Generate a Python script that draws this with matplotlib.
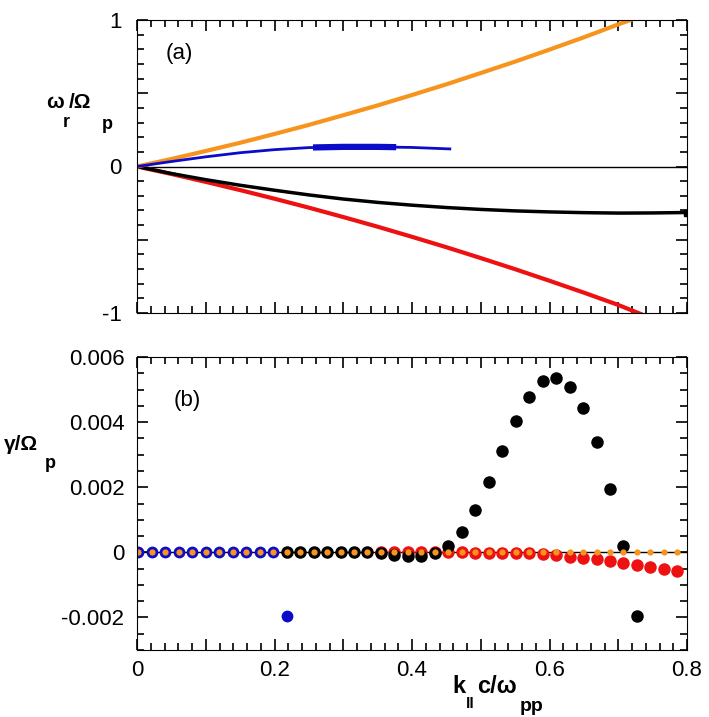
import numpy as np
import matplotlib
matplotlib.use('Agg')
import matplotlib.pyplot as plt
from matplotlib.ticker import MultipleLocator, FixedLocator, FixedFormatter

plt.rcParams['font.family'] = ['Liberation Sans', 'DejaVu Sans']

# colours
ORANGE = '#f7941e'
BLUE = '#0c0cc8'
RED = '#ee1111'

# ---- panel (a): real frequency vs k
k_orange = [0.0, 0.05, 0.1, 0.15, 0.2, 0.25, 0.3, 0.35, 0.4, 0.45, 0.5, 0.55, 0.6, 0.65, 0.7, 0.725]
w_orange = [0.0, 0.051, 0.106, 0.162, 0.222, 0.284, 0.35, 0.417, 0.488, 0.561, 0.638, 0.716,
            0.798, 0.882, 0.97, 1.012]

k_blue = [0.0, 0.025, 0.05, 0.075, 0.1, 0.15, 0.2, 0.25, 0.3, 0.35, 0.4, 0.455]
w_blue = [0.0, 0.017, 0.034, 0.05, 0.066, 0.094, 0.115, 0.129, 0.134, 0.134, 0.13, 0.12]
k_blue_thick = [0.256, 0.3, 0.35, 0.377]
w_blue_thick = [0.13, 0.134, 0.134, 0.132]

k_black = [0.0, 0.05, 0.1, 0.15, 0.2, 0.25, 0.3, 0.35, 0.4, 0.45, 0.5, 0.55, 0.6, 0.65, 0.7,
           0.75, 0.8]
w_black = [0.0, -0.048, -0.09, -0.128, -0.162, -0.194, -0.222, -0.245, -0.264, -0.28, -0.293,
           -0.303, -0.31, -0.315, -0.318, -0.317, -0.314]

k_red = [0.0, 0.05, 0.1, 0.15, 0.2, 0.25, 0.3, 0.35, 0.4, 0.45, 0.5, 0.55, 0.6, 0.65, 0.7, 0.745]
w_red = [0.0, -0.051, -0.105, -0.161, -0.22, -0.281, -0.345, -0.411, -0.48, -0.551, -0.625,
         -0.701, -0.78, -0.861, -0.945, -1.03]

# ---- panel (b): growth rate on the k grid
k_grid = np.linspace(0.002, 0.786, 41)

g_orange = [0.0] * 41

i_blue = list(range(12))
g_blue = [0.0] * 11 + [-0.00197]

i_black = list(range(11, 38))
g_black = [0.0, 0.0, 0.0, 0.0, 0.0, 0.0, 0.0, -0.00003, -0.00008, -0.0001,
           -0.0001, -0.00001, 0.0002, 0.00062, 0.00129, 0.00215, 0.00312,
           0.00404, 0.00478, 0.00525, 0.00537, 0.00509, 0.00444, 0.00338,
           0.00196, 0.00018, -0.00196]

i_red = list(range(18, 41))
g_red = [0.0, 0.0, 0.0, 0.0, 0.0, 0.0, 0.0, -0.00001, -0.00001, -0.00002,
         -0.00002, -0.00003, -0.00004, -0.00007, -0.00013, -0.00018, -0.00022,
         -0.00026, -0.00032, -0.00038, -0.00044, -0.0005, -0.00056]

W, H = 709, 717
fig = plt.figure(figsize=(W / 100, H / 100), dpi=100)


def px_axes(left, top, right, bottom):
    return fig.add_axes([left / W, 1 - bottom / H, (right - left) / W, (bottom - top) / H])


def ptext(x, y, s, size, bold=True):
    fig.text(x / W, 1 - y / H, s, fontsize=size, fontweight='bold' if bold else 'normal',
             ha='left', va='baseline')


def set_ticks(ax):
    ax.tick_params(which='both', direction='in', top=True, right=True, color='black', width=1.2)
    ax.tick_params(which='major', length=8)
    ax.tick_params(which='minor', length=5)


ax1 = px_axes(137, 20, 687, 313)
ax2 = px_axes(137, 357, 687, 650)

# panel (a)
ax1.set_xlim(0, 0.8)
ax1.set_ylim(-1, 1)
ax1.xaxis.set_major_locator(MultipleLocator(0.1))
ax1.xaxis.set_minor_locator(MultipleLocator(0.02))
ax1.yaxis.set_major_locator(FixedLocator([-1, -0.5, 0, 0.5, 1]))
ax1.yaxis.set_major_formatter(FixedFormatter(['-1', '', '0', '', '1']))
ax1.yaxis.set_minor_locator(MultipleLocator(0.1))
set_ticks(ax1)
ax1.tick_params(axis='x', labelbottom=False)
ax1.tick_params(axis='y', labelsize=16, pad=11)

ax1.plot([0, 0.8], [0, 0], color='black', lw=1.0)
ax1.plot(k_red, w_red, color=RED, lw=3)
ax1.plot(k_black, w_black, color='black', lw=2.5)
ax1.plot(k_black[-1:], w_black[-1:], 's', color='black', ms=4)
ax1.plot(k_orange, w_orange, color=ORANGE, lw=3)
ax1.plot(k_blue, w_blue, color=BLUE, lw=2)
ax1.plot(k_blue_thick, w_blue_thick, color=BLUE, lw=4.5, solid_capstyle='butt')
ax1.set_xlim(0, 0.8)
ax1.set_ylim(-1, 1)
ptext(166, 59, '(a)', 16, bold=False)

# panel (b)
ax2.set_xlim(0, 0.8)
ax2.set_ylim(-0.003, 0.006)
ax2.xaxis.set_major_locator(FixedLocator([0, 0.1, 0.2, 0.3, 0.4, 0.5, 0.6, 0.7, 0.8]))
ax2.xaxis.set_major_formatter(FixedFormatter(['0', '', '0.2', '', '0.4', '', '0.6', '', '0.8']))
ax2.xaxis.set_minor_locator(MultipleLocator(0.02))
ax2.yaxis.set_major_locator(FixedLocator([-0.002, 0, 0.002, 0.004, 0.006]))
ax2.yaxis.set_major_formatter(FixedFormatter(['-0.002', '0', '0.002', '0.004', '0.006']))
ax2.yaxis.set_minor_locator(MultipleLocator(0.0005))
set_ticks(ax2)
ax2.tick_params(axis='y', labelsize=16, pad=9)
ax2.tick_params(axis='x', labelsize=16, pad=7)

ax2.plot([0, 0.8], [0, 0], color='black', lw=1.0)
ax2.plot(k_grid[i_red], g_red, 'o', color=RED, ms=9, mew=0)
ax2.plot(k_grid[i_black], g_black, 'o', color='black', ms=9, mew=0)
ax2.plot(k_grid[i_blue], g_blue, 'o', color=BLUE, ms=8.5, mew=0)
ax2.plot(k_grid, g_orange, 'o', color=ORANGE, ms=4.5, mew=0)
ax2.set_xlim(0, 0.8)
ax2.set_ylim(-0.003, 0.006)
ptext(174, 406, '(b)', 16, bold=False)

# axis labels built from pieces so the subscripts sit low like the original
ptext(46, 108, '\u03c9', 15)
ptext(63, 127, 'r', 13)
ptext(69, 108, '/\u03a9', 15)
ptext(102, 129, 'p', 13)

ptext(4, 450, '\u03b3/\u03a9', 15)
ptext(45, 468, 'p', 13)

ptext(452, 693, 'k', 17)
ptext(466, 708, 'll', 11)
ptext(477, 693, 'c/\u03c9', 17)
ptext(520, 711, 'pp', 14)

fig.savefig('out.png', dpi=100)
